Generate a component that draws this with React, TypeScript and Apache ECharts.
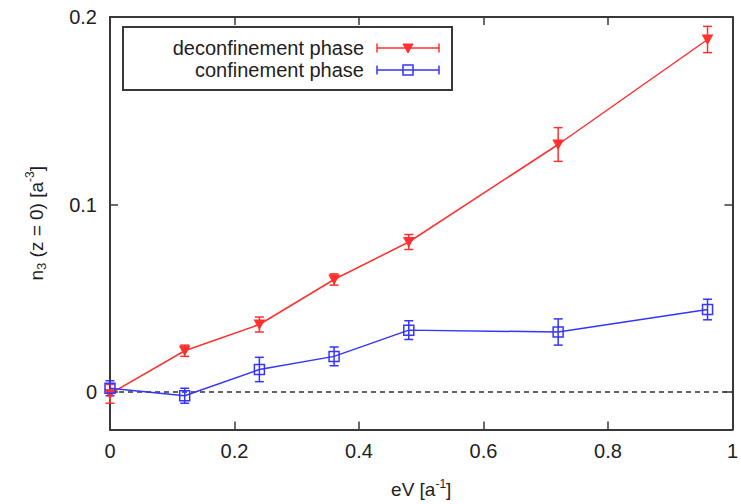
import React, { useEffect, useRef } from "react";
import * as echarts from "echarts";

const xValues = [0, 0.12, 0.24, 0.36, 0.48, 0.72, 0.96];
const deconfValues = [-0.001, 0.022, 0.036, 0.06, 0.08, 0.132, 0.188];
const deconfErrors = [0.005, 0.003, 0.004, 0.003, 0.004, 0.009, 0.007];
const confValues = [0.002, -0.002, 0.012, 0.019, 0.033, 0.032, 0.044];
const confErrors = [0.004, 0.004, 0.0065, 0.005, 0.005, 0.007, 0.0055];
const zeroLineX = [0, 1];
const xTicks = [0, 0.2, 0.4, 0.6, 0.8, 1];
const yTicks = [0, 0.1, 0.2];
const seriesNames = ["deconfinement phase", "confinement phase"];

const RED = "#ff3030";
const BLUE = "#3535ff";
const AXIS = "#383838";
const TEXT = "#1e1e1e";
const FONT = "Liberation Sans, Arial, sans-serif";

function errorBarSeries(name: string, vals: number[], errs: number[], color: string) {
  return {
    type: "custom",
    name: name + " err",
    z: 3,
    encode: { x: 0, y: [1, 2] },
    data: xValues.map((x, i) => [x, vals[i] - errs[i], vals[i] + errs[i]]),
    renderItem: (params: any, api: any) => {
      const lo = api.coord([api.value(0), api.value(1)]);
      const hi = api.coord([api.value(0), api.value(2)]);
      const w = 4.5;
      const st = { stroke: color, lineWidth: 1.5 };
      return {
        type: "group",
        children: [
          { type: "line", shape: { x1: lo[0], y1: lo[1], x2: hi[0], y2: hi[1] }, style: st },
          { type: "line", shape: { x1: lo[0] - w, y1: lo[1], x2: lo[0] + w, y2: lo[1] }, style: st },
          { type: "line", shape: { x1: hi[0] - w, y1: hi[1], x2: hi[0] + w, y2: hi[1] }, style: st },
        ],
      };
    },
  };
}

export default function App() {
  const ref = useRef<HTMLDivElement>(null);
  useEffect(() => {
    if (!ref.current) return;
    const chart = echarts.init(ref.current, null, { renderer: "svg" });
    const axisLine = { show: true, onZero: false, lineStyle: { color: AXIS, width: 2 } };
    const axisTick = { show: true, inside: true, length: 8, lineStyle: { color: AXIS, width: 1.5 } };
    const labelStyle = { color: TEXT, fontSize: 20, fontFamily: FONT };

    const legendY = [48, 70];
    const legendX1 = 377;
    const legendX2 = 439;
    const legendMid = 408;
    const legendGraphics: any[] = [
      {
        type: "rect",
        shape: { x: 123, y: 27, width: 329, height: 63 },
        style: { fill: "#fff", stroke: AXIS, lineWidth: 2 },
        z: 10,
      },
    ];
    const colors = [RED, BLUE];
    seriesNames.forEach((nm, i) => {
      const y = legendY[i];
      const c = colors[i];
      const st = { stroke: c, lineWidth: 1.5 };
      legendGraphics.push(
        {
          type: "text",
          x: 364,
          y,
          z: 11,
          style: { text: nm, fill: TEXT, font: `20px ${FONT}`, textAlign: "right", textVerticalAlign: "middle" },
        },
        { type: "line", z: 11, shape: { x1: legendX1, y1: y, x2: legendX2, y2: y }, style: st },
        { type: "line", z: 11, shape: { x1: legendX1, y1: y - 4.5, x2: legendX1, y2: y + 4.5 }, style: st },
        { type: "line", z: 11, shape: { x1: legendX2, y1: y - 4.5, x2: legendX2, y2: y + 4.5 }, style: st }
      );
    });
    legendGraphics.push(
      {
        type: "polygon",
        z: 12,
        shape: { points: [[legendMid - 5, legendY[0] - 4], [legendMid + 5, legendY[0] - 4], [legendMid, legendY[0] + 5]] },
        style: { fill: RED, stroke: RED, lineWidth: 1 },
      },
      {
        type: "rect",
        z: 12,
        shape: { x: legendMid - 5, y: legendY[1] - 5, width: 10, height: 10 },
        style: { fill: "none", stroke: BLUE, lineWidth: 1.5 },
      }
    );

    chart.setOption({
      animation: false,
      backgroundColor: "#fff",
      grid: { left: 110, right: 6, top: 17, bottom: 67, containLabel: false },
      xAxis: [
        {
          type: "value",
          min: 0,
          max: 1,
          interval: 0.2,
          position: "bottom",
          axisLine,
          axisTick,
          splitLine: { show: false },
          axisLabel: { ...labelStyle, margin: 11, customValues: xTicks, formatter: (v: number) => String(+v.toFixed(1)) },
          name: "{n|eV [a}{sup|-1}{n|]}",
          nameLocation: "middle",
          nameGap: 48,
          nameTextStyle: {
            rich: {
              n: { fontSize: 19, fontFamily: FONT, color: TEXT },
              sup: { fontSize: 12, fontFamily: FONT, color: TEXT, padding: [0, 0, 12, 0] },
            },
          },
        },
        {
          type: "value",
          min: 0,
          max: 1,
          interval: 0.2,
          position: "top",
          axisLine,
          axisTick,
          axisLabel: { show: false },
          splitLine: { show: false },
        },
      ],
      yAxis: [
        {
          type: "value",
          min: -0.02,
          max: 0.2,
          position: "left",
          axisLine,
          axisTick: { ...axisTick, customValues: yTicks },
          splitLine: { show: false },
          axisLabel: { ...labelStyle, margin: 13, customValues: yTicks, formatter: (v: number) => String(+v.toFixed(1)) },
          name: "{n|n}{sub|3}{n| (z = 0) [a}{sup|-3}{n|]}",
          nameLocation: "middle",
          nameGap: 62,
          nameTextStyle: {
            rich: {
              n: { fontSize: 19, fontFamily: FONT, color: TEXT },
              sub: { fontSize: 13, fontFamily: FONT, color: TEXT, padding: [10, 0, 0, 0] },
              sup: { fontSize: 12, fontFamily: FONT, color: TEXT, padding: [0, 0, 12, 0] },
            },
          },
        },
        {
          type: "value",
          min: -0.02,
          max: 0.2,
          position: "right",
          axisLine,
          axisTick: { ...axisTick, customValues: yTicks },
          axisLabel: { show: false },
          splitLine: { show: false },
        },
      ],
      series: [
        {
          type: "line",
          name: "zero",
          data: zeroLineX.map((x) => [x, 0]),
          symbol: "none",
          lineStyle: { color: "#333", width: 1.3, type: [5, 4] },
          z: 1,
          silent: true,
        },
        errorBarSeries(seriesNames[0], deconfValues, deconfErrors, RED),
        errorBarSeries(seriesNames[1], confValues, confErrors, BLUE),
        {
          type: "line",
          name: seriesNames[0],
          data: xValues.map((x, i) => [x, deconfValues[i]]),
          symbol: "triangle",
          symbolRotate: 180,
          symbolSize: [10, 9],
          lineStyle: { color: RED, width: 1.5 },
          itemStyle: { color: RED, borderColor: RED, borderWidth: 1 },
          z: 4,
        },
        {
          type: "line",
          name: seriesNames[1],
          data: xValues.map((x, i) => [x, confValues[i]]),
          symbol: "rect",
          symbolSize: 10,
          lineStyle: { color: BLUE, width: 1.5 },
          itemStyle: { color: "rgba(0,0,0,0)", borderColor: BLUE, borderWidth: 1.5 },
          z: 4,
        },
      ],
      graphic: legendGraphics,
    });
    return () => chart.dispose();
  }, []);
  return <div ref={ref} style={{ width: 741, height: 504, position: "absolute", left: 0, top: 0 }} />;
}
